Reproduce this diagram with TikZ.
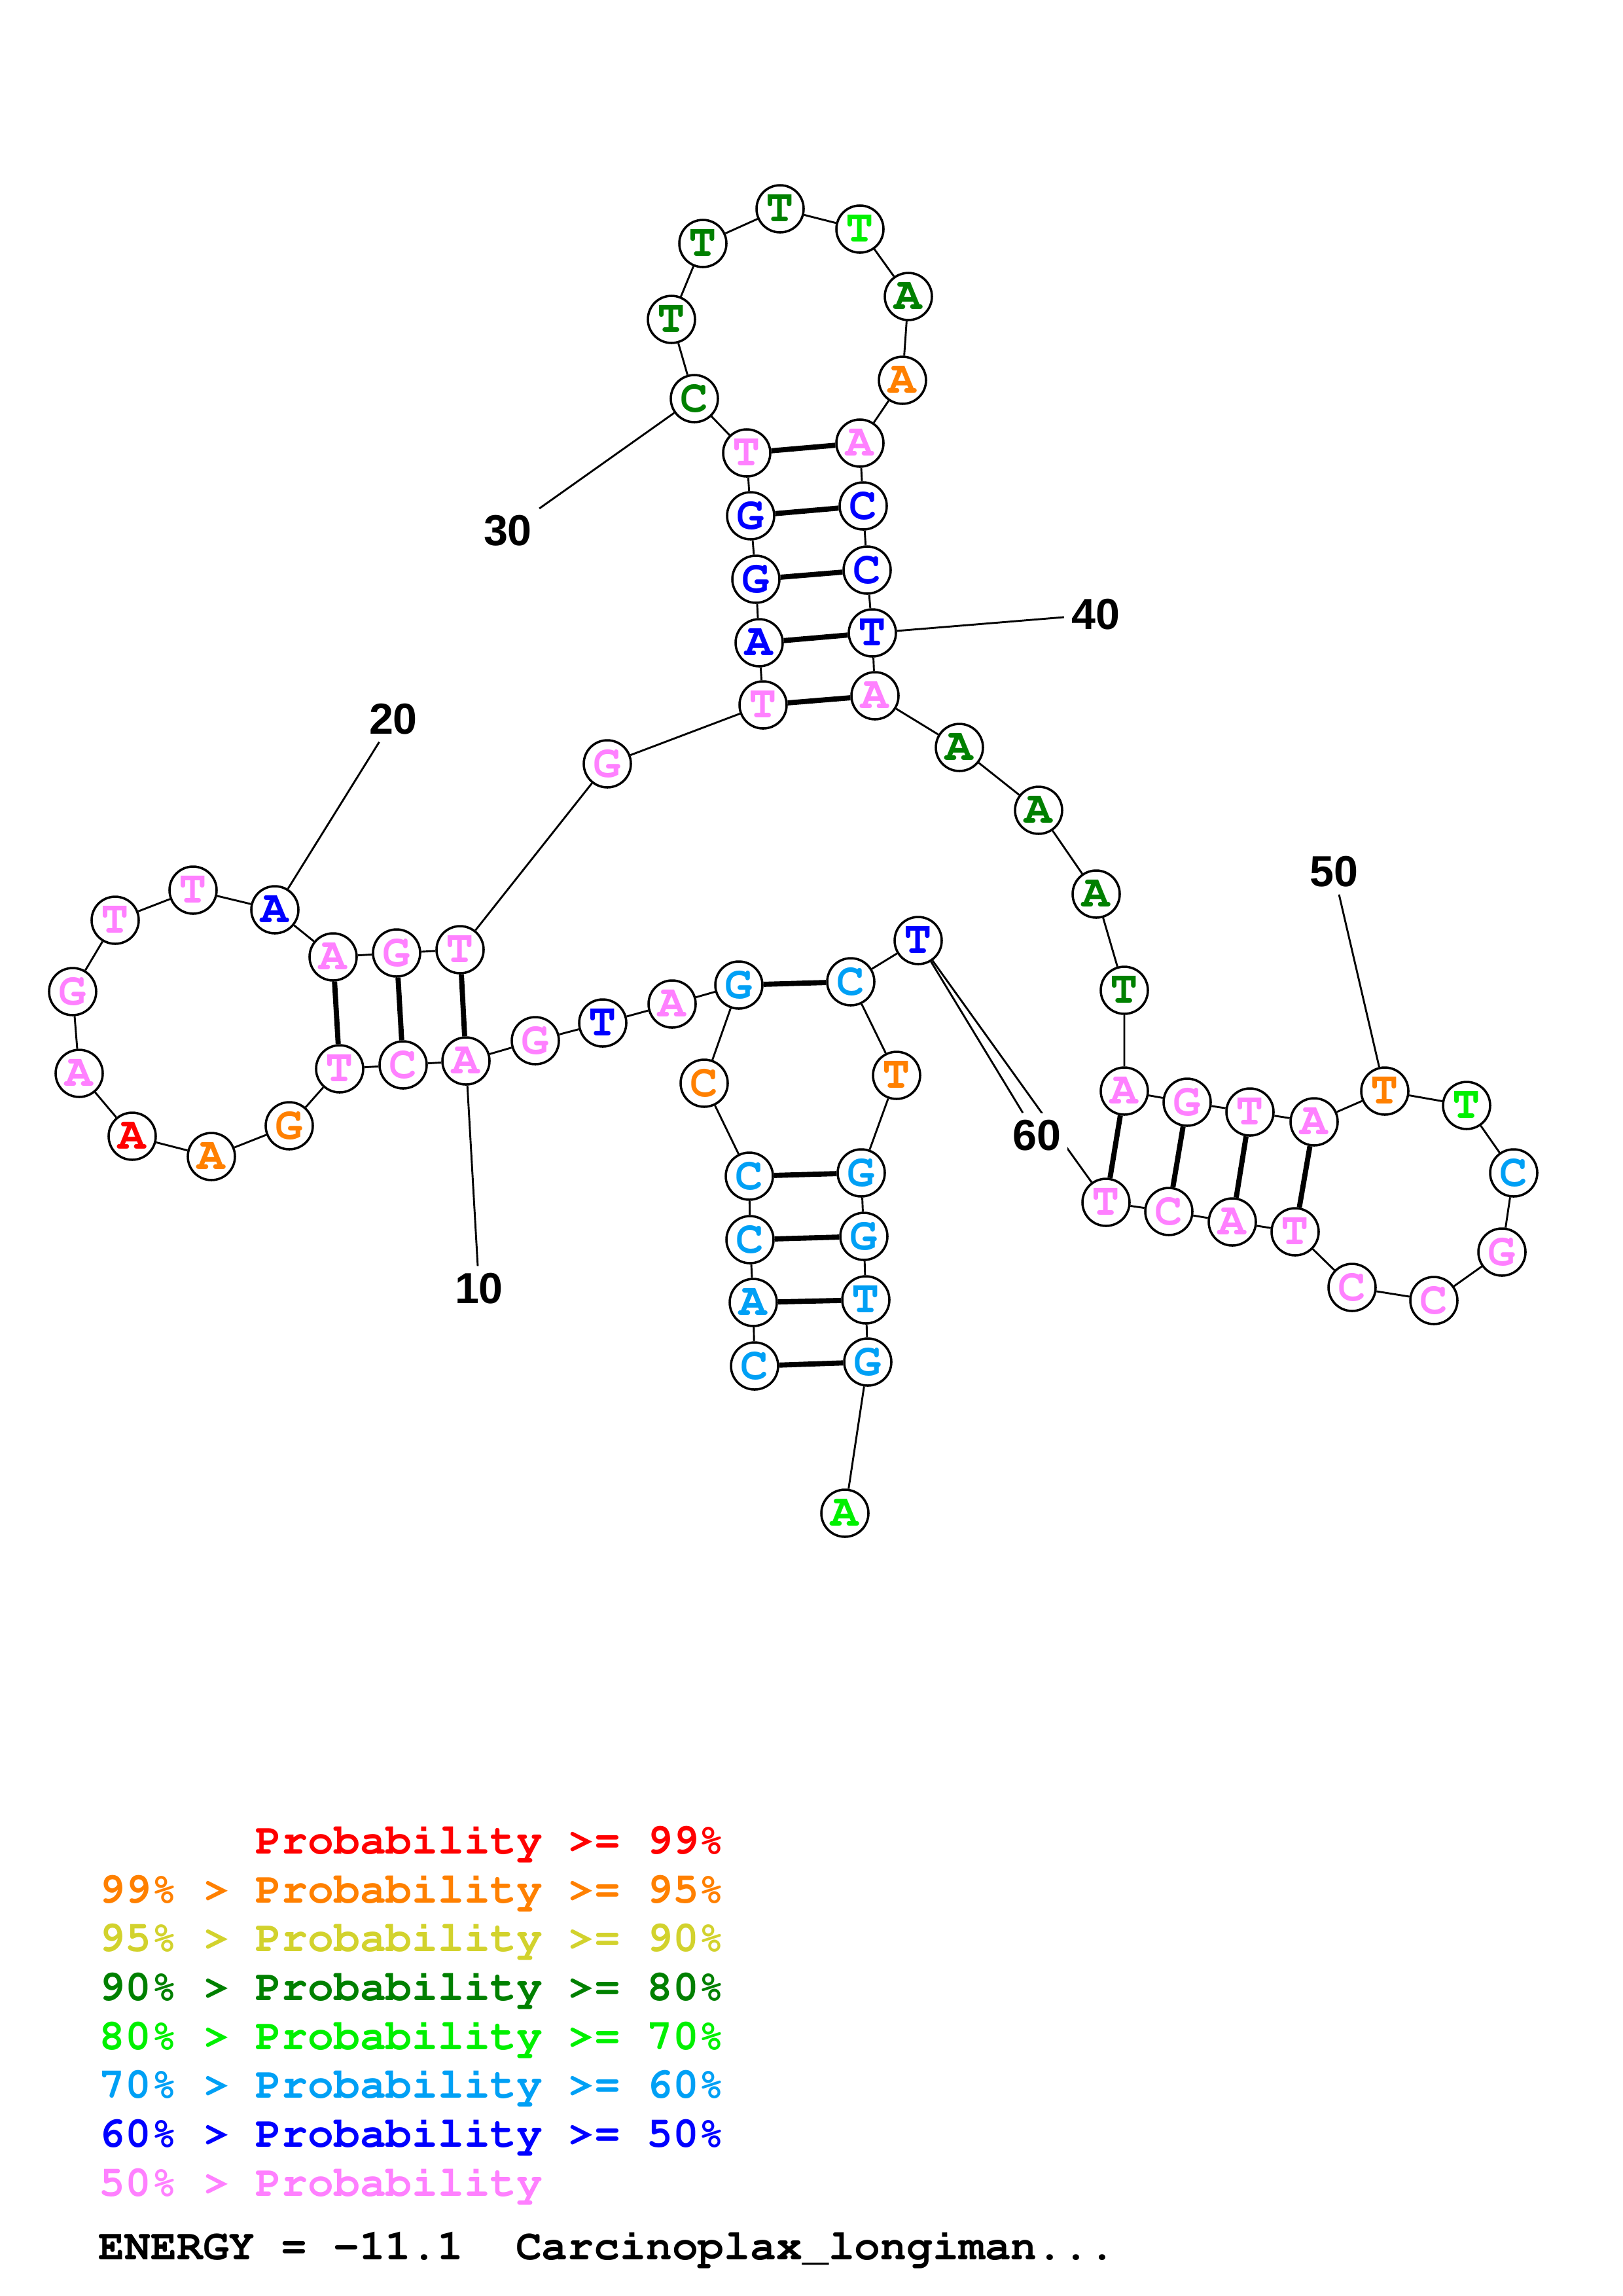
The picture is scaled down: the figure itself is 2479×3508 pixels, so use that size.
\documentclass[tikz,border=0pt]{standalone}
\usepackage[T1]{fontenc}
\usepackage{fontspec}
\newfontfamily\numfont{Liberation Sans}
\newcommand\courb{\fontencoding{T1}\fontfamily{pcr}\fontseries{b}\fontshape{n}\selectfont}
\definecolor{prred}{HTML}{FF0000}
\definecolor{prorange}{HTML}{FF8000}
\definecolor{pryellow}{HTML}{D2D22D}
\definecolor{prdkgreen}{HTML}{008000}
\definecolor{prgreen}{HTML}{00F000}
\definecolor{prltblue}{HTML}{00A0F5}
\definecolor{prblue}{HTML}{0000FF}
\definecolor{prpink}{HTML}{FF80FF}

\begin{document}
\begin{tikzpicture}[x=0.0847115mm, y=-0.0847115mm, nt/.style={circle, draw, fill=white, line width=0.85pt, minimum size=6.1mm, inner sep=0pt, font=\courb\fontsize{17}{17}\selectfont}, bb/.style={line width=0.7pt}, bp/.style={line width=1.9pt}, num/.style={font=\numfont\bfseries\fontsize{16}{16}\selectfont, inner sep=2.5pt}, leg/.style={anchor=base west, inner sep=0pt, font=\courb\fontsize{16}{16}\selectfont}]
\useasboundingbox (0,0) rectangle (2479,3508);
\node[nt, text=prltblue] (b1) at (1153,2087) {C};
\node[nt, text=prltblue] (b2) at (1151,1990) {A};
\node[nt, text=prltblue] (b3) at (1146,1894) {C};
\node[nt, text=prltblue] (b4) at (1145,1797) {C};
\node[nt, text=prorange] (b5) at (1076,1655) {C};
\node[nt, text=prltblue] (b6) at (1129,1505) {G};
\node[nt, text=prpink] (b7) at (1027,1534) {A};
\node[nt, text=prblue] (b8) at (921,1563) {T};
\node[nt, text=prpink] (b9) at (818,1590) {G};
\node[nt, text=prpink] (b10) at (712,1621) {A};
\node[nt, text=prpink] (b11) at (616,1627) {C};
\node[nt, text=prpink] (b12) at (519,1633) {T};
\node[nt, text=prorange] (b13) at (442,1720) {G};
\node[nt, text=prorange] (b14) at (323,1767) {A};
\node[nt, text=prred] (b15) at (202,1736) {A};
\node[nt, text=prpink] (b16) at (121,1640) {A};
\node[nt, text=prpink] (b17) at (111,1515) {G};
\node[nt, text=prpink] (b18) at (176,1406) {T};
\node[nt, text=prpink] (b19) at (295,1360) {T};
\node[nt, text=prblue] (b20) at (420,1390) {A};
\node[nt, text=prpink] (b21) at (509,1462) {A};
\node[nt, text=prpink] (b22) at (606,1456) {G};
\node[nt, text=prpink] (b23) at (703,1451) {T};
\node[nt, text=prpink] (b24) at (928,1167) {G};
\node[nt, text=prpink] (b25) at (1166,1077) {T};
\node[nt, text=prblue] (b26) at (1160,982) {A};
\node[nt, text=prblue] (b27) at (1155,885) {G};
\node[nt, text=prblue] (b28) at (1147,788) {G};
\node[nt, text=prpink] (b29) at (1141,692) {T};
\node[nt, text=prdkgreen] (b30) at (1061,609) {C};
\node[nt, text=prdkgreen] (b31) at (1026,488) {T};
\node[nt, text=prdkgreen] (b32) at (1074,372) {T};
\node[nt, text=prdkgreen] (b33) at (1192,319) {T};
\node[nt, text=prgreen] (b34) at (1314,350) {T};
\node[nt, text=prdkgreen] (b35) at (1388,453) {A};
\node[nt, text=prorange] (b36) at (1379,581) {A};
\node[nt, text=prpink] (b37) at (1314,677) {A};
\node[nt, text=prblue] (b38) at (1319,773) {C};
\node[nt, text=prblue] (b39) at (1325,871) {C};
\node[nt, text=prblue] (b40) at (1333,967) {T};
\node[nt, text=prpink] (b41) at (1337,1063) {A};
\node[nt, text=prdkgreen] (b42) at (1466,1142) {A};
\node[nt, text=prdkgreen] (b43) at (1587,1238) {A};
\node[nt, text=prdkgreen] (b44) at (1675,1366) {A};
\node[nt, text=prdkgreen] (b45) at (1718,1513) {T};
\node[nt, text=prpink] (b46) at (1718,1667) {A};
\node[nt, text=prpink] (b47) at (1814,1684) {G};
\node[nt, text=prpink] (b48) at (1910,1699) {T};
\node[nt, text=prpink] (b49) at (2008,1714) {A};
\node[nt, text=prorange] (b50) at (2116,1667) {T};
\node[nt, text=prgreen] (b51) at (2241,1689) {T};
\node[nt, text=prltblue] (b52) at (2313,1792) {C};
\node[nt, text=prpink] (b53) at (2295,1913) {G};
\node[nt, text=prpink] (b54) at (2191,1987) {C};
\node[nt, text=prpink] (b55) at (2066,1967) {C};
\node[nt, text=prpink] (b56) at (1979,1882) {T};
\node[nt, text=prpink] (b57) at (1883,1867) {A};
\node[nt, text=prpink] (b58) at (1786,1851) {C};
\node[nt, text=prpink] (b59) at (1690,1837) {T};
\node[nt, text=prblue] (b60) at (1403,1437) {T};
\node[nt, text=prltblue] (b61) at (1300,1500) {C};
\node[nt, text=prorange] (b62) at (1370,1643) {T};
\node[nt, text=prltblue] (b63) at (1316,1792) {G};
\node[nt, text=prltblue] (b64) at (1320,1889) {G};
\node[nt, text=prltblue] (b65) at (1323,1986) {T};
\node[nt, text=prltblue] (b66) at (1326,2081) {G};
\node[nt, text=prgreen] (b67) at (1291,2312) {A};
\draw[bb] (b1) -- (b2) -- (b3) -- (b4) -- (b5) -- (b6) -- (b7) -- (b8) -- (b9) -- (b10) -- (b11) -- (b12) -- (b13) -- (b14) -- (b15) -- (b16) -- (b17);
\draw[bb] (b17) -- (b18) -- (b19) -- (b20) -- (b21) -- (b22) -- (b23) -- (b24) -- (b25) -- (b26) -- (b27) -- (b28) -- (b29) -- (b30) -- (b31) -- (b32) -- (b33);
\draw[bb] (b33) -- (b34) -- (b35) -- (b36) -- (b37) -- (b38) -- (b39) -- (b40) -- (b41) -- (b42) -- (b43) -- (b44) -- (b45) -- (b46) -- (b47) -- (b48) -- (b49) -- (b50);
\draw[bb] (b50) -- (b51) -- (b52) -- (b53) -- (b54) -- (b55) -- (b56) -- (b57) -- (b58) -- (b59) -- (b60) -- (b61) -- (b62) -- (b63) -- (b64) -- (b65) -- (b66) -- (b67);
\draw[bp] (b1) -- (b66);
\draw[bp] (b2) -- (b65);
\draw[bp] (b3) -- (b64);
\draw[bp] (b4) -- (b63);
\draw[bp] (b6) -- (b61);
\draw[bp] (b10) -- (b23);
\draw[bp] (b11) -- (b22);
\draw[bp] (b12) -- (b21);
\draw[bp] (b25) -- (b41);
\draw[bp] (b26) -- (b40);
\draw[bp] (b27) -- (b39);
\draw[bp] (b28) -- (b38);
\draw[bp] (b29) -- (b37);
\draw[bp] (b46) -- (b59);
\draw[bp] (b47) -- (b58);
\draw[bp] (b48) -- (b57);
\draw[bp] (b49) -- (b56);
\node[num] (l10) at (732,1969) {10};
\node[num] (l20) at (601,1099) {20};
\node[num] (l30) at (776,811) {30};
\node[num] (l40) at (1674,939) {40};
\node[num] (l50) at (2038,1332) {50};
\node[num, fill=white] (l60) at (1584,1735) {60};
\draw[bb] (b10) -- (l10);
\draw[bb] (b20) -- (l20);
\draw[bb] (b30) -- (l30);
\draw[bb] (b40) -- (l40);
\draw[bb] (b50) -- (l50);
\draw[bb] (b60) -- (l60);
\node[leg, text=prred] (leg1) at (151,2832) {\hphantom{99\% > }Probability >= 99\%};
\node[leg, text=prorange] (leg2) at (151,2907) {99\% > Probability >= 95\%};
\node[leg, text=pryellow] (leg3) at (151,2981) {95\% > Probability >= 90\%};
\node[leg, text=prdkgreen] (leg4) at (151,3056) {90\% > Probability >= 80\%};
\node[leg, text=prgreen] (leg5) at (151,3131) {80\% > Probability >= 70\%};
\node[leg, text=prltblue] (leg6) at (151,3205) {70\% > Probability >= 60\%};
\node[leg, text=prblue] (leg7) at (151,3280) {60\% > Probability >= 50\%};
\node[leg, text=prpink] (leg8) at (151,3355) {50\% > Probability};
\node[leg] (energy) at (150,3452) {ENERGY = -11.1\ \ Carcinoplax\_longiman...};
\end{tikzpicture}
\end{document}
